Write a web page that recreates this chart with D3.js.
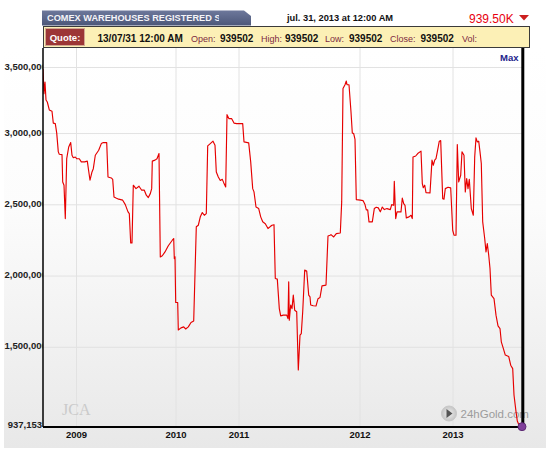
<!DOCTYPE html>
<html>
<head>
<meta charset="utf-8">
<script src="https://cdn.jsdelivr.net/npm/d3@7"></script>
<style>
  body { margin: 0; background: #fff; }
  svg { display: block; font-family: "Liberation Sans", Arial, sans-serif; }
</style>
</head>
<body>
<div id="chart"></div>
<script>
// 1: DATA (values in thousands of oz, x = observation number)
const obsIdx = [0,1,2,3,4.3,6.3,9,10.3,12.3,13.7,
  15.3,16.3,19,19.7,21,22.3,23.7,25.7,27.7,29,
  30.3,32.3,33.7,36.3,38.3,41.7,44.3,47,49,50.3,
  52.3,55.7,58.3,60.3,63.7,65,68.3,69.7,71,73,
  75.7,79.7,82.3,85,86.3,87.7,89,90.3,93,96,
  98.7,101.3,103.3,105.3,107.3,108.7,109.3,112,114,116,
  117.3,119.3,122,125.3,129.3,130.7,131.3,132,132.7,134.7,
  135.3,138,140.7,142.7,145.3,148,150.7,152,153.3,155.3,
  157.3,159.3,161.3,163.3,164.7,167.3,170,172,173.3,175.3,
  177.3,179.3,180.7,182.7,184,186,188.7,191,193.7,199.7,
  201,205.7,207.7,209.7,211,213,215.7,217.7,219.7,222.3,
  225,227,229,231,232.3,234.3,236.3,237.7,240.3,243.7,
  245,245.7,246.3,247.7,249,250.3,251.7,253.7,255.3,257,
  258.3,259.7,261.7,263.7,265.7,267,267.7,270.3,273,275,
  277,279,283,285,287,288,290.7,293.3,297.3,298.7,
  300,302,303.3,304,306,308,309.3,310.7,312,313.3,
  317.3,320,322,323.3,324.7,326,329.3,331.3,333.3,335.3,
  337.3,339.3,341.3,344,347.3,348.7,350.7,351.3,352.7,354,
  358,359.3,360.7,362,363.3,366,368,369.3,370,372.7,
  374.7,378,379.3,380.3,381.7,383,387,389,390.3,391.7,
  393,394.3,396.3,397.7,399.7,401,402.3,405,407.7,409.7,
  411,413,414.3,415.7,417.7,419,421,422.3,423.7,425,
  426.3,428.3,430.3,431.7,433,434.3,435.7,437,438.3,439.7,
  441.7,443,444.3,445.7,447,448.3,451,453,455,457,
  458.3,460.3,462.3,465.7,467.7,469.7,471,473,474.3,476.3,
  479];

const registered = [3449,3276,3358,3232,3218,3162,3153,3070,3066,3001,
  2868,2851,2849,2657,2634,2400,2820,2902,2933,2844,
  2827,2832,2820,2820,2798,2798,2803,2669,2727,2750,
  2844,2879,2926,2933,2933,2692,2685,2675,2551,2544,
  2536,2529,2498,2447,2435,2229,2229,2634,2610,2627,
  2599,2599,2564,2547,2575,2610,2803,2810,2820,2856,
  2131,2139,2166,2209,2248,2260,2119,2131,1811,1811,
  1618,1633,1640,1625,1640,1671,1681,2015,2342,2353,
  2412,2442,2423,2435,2910,2926,2943,2915,2727,2692,
  2667,2675,2652,2622,3129,3101,3101,3070,3066,3066,
  2938,2931,2798,2610,2587,2481,2470,2412,2377,2364,
  2330,2342,2353,2357,1979,1975,1768,1717,1722,1722,
  1698,1956,1687,1793,1768,1863,1757,1746,1337,1582,
  1593,1746,2038,2032,1863,1851,1793,1788,1786,1838,
  1846,1928,1933,2278,2283,2287,2271,2294,2299,2517,
  3312,3339,3365,3339,3339,3148,3001,2996,2956,2533,
  2529,2526,2498,2461,2461,2377,2377,2470,2479,2475,
  2447,2481,2463,2470,2463,2498,2493,2662,2400,2447,
  2447,2544,2505,2493,2405,2412,2423,2400,2832,2839,
  2856,2873,2646,2616,2634,2582,2580,2810,2774,2810,
  2820,2868,2943,2947,2540,2536,2610,2620,2615,2318,
  2283,2283,2919,2657,2704,2868,2844,2587,2681,2610,
  2675,2470,2423,2832,2966,2938,2943,2868,2786,2377,
  2260,2166,2224,2144,2049,1863,1838,1722,1647,1628,
  1535,1489,1442,1432,1371,1347,1162,1045,979,946,
  939.502];

const yearLabels = ["2009", "2010", "2011", "2012", "2013"];
const yearIdx = [33, 132.5, 195.5, 316.5, 409.5];
const yTicks = [3500, 3000, 2500, 2000, 1500];   // thousands
const yMin = 937.153, yMax = 3463.6;

const quoteDate = "13/07/31 12:00 AM";
const quoteLabels = ["Open:", "High:", "Low:", "Close:", "Vol:"];
const quoteValues = ["939502", "939502", "939502", "939502", ""];

// 2: SVG + LAYOUT
const margin = { top: 67, right: 24, bottom: 23, left: 43 },
      width = 479,
      height = 360;

const svg = d3.select("#chart").append("svg")
    .attr("width", 546)
    .attr("height", 450);

const defs = svg.append("defs");
const panelGrad = defs.append("linearGradient").attr("id", "panelGrad")
    .attr("x1", 0).attr("y1", 0).attr("x2", 0).attr("y2", 1);
panelGrad.append("stop").attr("offset", "0%").attr("stop-color", "#ffffff");
panelGrad.append("stop").attr("offset", "40%").attr("stop-color", "#fcfcfc");
panelGrad.append("stop").attr("offset", "100%").attr("stop-color", "#e8e8e8");

const tabGrad = defs.append("linearGradient").attr("id", "tabGrad")
    .attr("x1", 0).attr("y1", 0).attr("x2", 0).attr("y2", 1);
tabGrad.append("stop").attr("offset", "0%").attr("stop-color", "#6d789b");
tabGrad.append("stop").attr("offset", "100%").attr("stop-color", "#4c5779");

const iconGrad = defs.append("radialGradient").attr("id", "iconGrad");
iconGrad.append("stop").attr("offset", "0%").attr("stop-color", "#f0f0f0");
iconGrad.append("stop").attr("offset", "100%").attr("stop-color", "#c4c4c4");

defs.append("clipPath").attr("id", "tabClip")
  .append("rect").attr("x", 43).attr("y", 8).attr("width", 176).attr("height", 20);
defs.append("clipPath").attr("id", "labelClip")
  .append("rect").attr("x", -margin.left).attr("y", -20).attr("width", margin.left).attr("height", height + 40);
defs.append("clipPath").attr("id", "plotClip")
  .append("rect").attr("x", 0).attr("y", -19).attr("width", width).attr("height", height + 19);

// 3: HEADER
svg.append("path")
    .attr("d", "M42,25.5 L42,10.5 L244,10.5 L251,16 L251,25.5 Z")
    .attr("fill", "url(#tabGrad)");
svg.append("text")
    .attr("clip-path", "url(#tabClip)")
    .attr("x", 47).attr("y", 21)
    .attr("font-size", "9.2px").attr("font-weight", "bold")
    .attr("fill", "#f4f4f8")
    .text("COMEX WAREHOUSES REGISTERED SILVER");

svg.append("text")
    .attr("x", 287).attr("y", 21)
    .attr("font-size", "9.3px").attr("font-weight", "bold")
    .attr("fill", "#111")
    .text("jul. 31, 2013 at 12:00 AM");

svg.append("text")
    .attr("x", 469).attr("y", 22.5)
    .attr("font-size", "12px")
    .attr("fill", "#e8000e")
    .text("939.50K");
svg.append("path")
    .attr("d", "M519,15 L529,15 L524,20.5 Z")
    .attr("fill", "#cc1f1f");

// quote bar
svg.append("rect")
    .attr("x", 43.5).attr("y", 26.5).attr("width", 486).attr("height", 21)
    .attr("fill", "#fcf0b6").attr("stroke", "#3a3a3a");
svg.append("rect")
    .attr("x", 45.5).attr("y", 28.5).attr("width", 39).attr("height", 17)
    .attr("fill", "#9c3636").attr("stroke", "#d3a892");
svg.append("text")
    .attr("x", 65).attr("y", 40.5).attr("text-anchor", "middle")
    .attr("font-size", "9.5px").attr("font-weight", "bold").attr("fill", "#fff")
    .text("Quote:");
svg.append("text")
    .attr("x", 97.5).attr("y", 42.3)
    .attr("font-size", "10px").attr("font-weight", "bold").attr("fill", "#111")
    .text(quoteDate);

const labelX = [191, 261, 325, 390, 462],
      valueX = [220, 285, 349, 420.5, 480];
quoteLabels.forEach((lab, i) => {
    svg.append("text")
        .attr("x", labelX[i]).attr("y", 42.3)
        .attr("font-size", "9px").attr("fill", "#7d2a42")
        .text(lab);
    svg.append("text")
        .attr("x", valueX[i]).attr("y", 42.3)
        .attr("font-size", "10px").attr("font-weight", "bold").attr("fill", "#111")
        .text(quoteValues[i]);
});

// 4: CHART PANEL
svg.append("rect")
    .attr("x", 4).attr("y", 48).attr("width", 542).attr("height", 400)
    .attr("fill", "url(#panelGrad)");

const g = svg.append("g")
    .attr("transform", `translate(${margin.left},${margin.top})`);

// 5: SCALES
const x = d3.scaleLinear()
    .domain([0, 479])
    .range([0, width]);

const y = d3.scaleLinear()
    .domain([yMin, yMax])
    .range([height, 0])
    .clamp(true);

// 6: GRIDLINES
g.append("g")
    .attr("class", "grid")
    .call(d3.axisLeft(y).tickValues(yTicks).tickSize(-width).tickFormat(""))
    .call(a => a.select(".domain").remove())
    .call(a => a.selectAll("line").attr("stroke", "#e2e2e2"));

g.append("g")
    .attr("class", "grid")
    .attr("transform", `translate(0,${height})`)
    .call(d3.axisBottom(x).tickValues(yearIdx).tickSize(-(height + 19)).tickFormat(""))
    .call(a => a.select(".domain").remove())
    .call(a => a.selectAll("line").attr("stroke", "#e2e2e2"));

// 7: WATERMARKS
g.append("text")
    .attr("x", 19).attr("y", 348)
    .attr("font-family", "'Liberation Serif', 'DejaVu Serif', serif")
    .attr("font-size", "16px").attr("fill", "#cacaca")
    .text("JCA");

g.append("circle")
    .attr("cx", 406).attr("cy", 346.5).attr("r", 7.5)
    .attr("fill", "url(#iconGrad)").attr("stroke", "#c8c8c8");
g.append("path")
    .attr("d", "M403.5,342 L403.5,351 L409.5,346.5 Z")
    .attr("fill", "#555");
g.append("text")
    .attr("x", 417.5).attr("y", 350.7)
    .attr("font-size", "11.5px").attr("fill", "#9c9c9c")
    .text("24hGold.com");

// 8: LINE
const series = obsIdx.map((d, i) => ({ i: d, v: registered[i] }));

g.append("path")
    .datum(series)
    .attr("clip-path", "url(#plotClip)")
    .attr("fill", "none")
    .attr("stroke", "#e60000")
    .attr("stroke-width", 1.15)
    .attr("stroke-linejoin", "round")
    .attr("d", d3.line().x(d => x(d.i)).y(d => y(d.v)));

// 9: AXES + FRAME
g.append("line")   // left axis
    .attr("x1", 0).attr("x2", 0).attr("y1", -19).attr("y2", height)
    .attr("stroke", "#000").attr("stroke-width", 1.5);
g.append("line")   // bottom axis
    .attr("x1", 0).attr("x2", width + 1.5).attr("y1", height).attr("y2", height)
    .attr("stroke", "#000").attr("stroke-width", 2);
g.append("line")   // right border
    .attr("x1", width + 0.8).attr("x2", width + 0.8).attr("y1", -19).attr("y2", height + 1)
    .attr("stroke", "#000").attr("stroke-width", 3);

// y tick labels, clipped at the axis like the original
const yAxis = g.append("g")
    .attr("clip-path", "url(#labelClip)")
    .call(d3.axisLeft(y).tickValues(yTicks).tickSize(0)
        .tickFormat(d => d3.format(",")(d * 1000)));
yAxis.select(".domain").remove();
yAxis.selectAll("text")
    .attr("text-anchor", "start")
    .attr("x", -38.5)
    .attr("dy", 2)
    .attr("font-size", "9.5px")
    .attr("font-weight", "bold")
    .attr("font-family", "'Liberation Sans', Arial, sans-serif")
    .attr("fill", "#222");

g.append("text")
    .attr("x", -1).attr("y", y(yMin) + 0.5)
    .attr("text-anchor", "end")
    .attr("font-size", "9.5px").attr("font-weight", "bold").attr("fill", "#222")
    .text(d3.format(",")(Math.round(yMin * 1000)));

// x tick labels
const xAxis = g.append("g")
    .attr("transform", `translate(0,${height})`)
    .call(d3.axisBottom(x).tickValues(yearIdx).tickSize(0)
        .tickFormat((d, i) => yearLabels[i]));
xAxis.select(".domain").remove();
xAxis.selectAll("text")
    .attr("y", 10.5)
    .attr("dy", 0)
    .attr("font-size", "9.5px")
    .attr("font-weight", "bold")
    .attr("font-family", "'Liberation Sans', Arial, sans-serif")
    .attr("fill", "#111");

// "Max" range button + last point marker
g.append("text")
    .attr("x", 457).attr("y", -6)
    .attr("font-size", "9.5px").attr("font-weight", "bold").attr("fill", "#23238c")
    .text("Max");

const last = series[series.length - 1];
g.append("circle")
    .attr("cx", x(last.i)).attr("cy", y(last.v))
    .attr("r", 4)
    .attr("fill", "#80409a")
    .attr("stroke", "#5e2b74");
</script>
</body>
</html>
